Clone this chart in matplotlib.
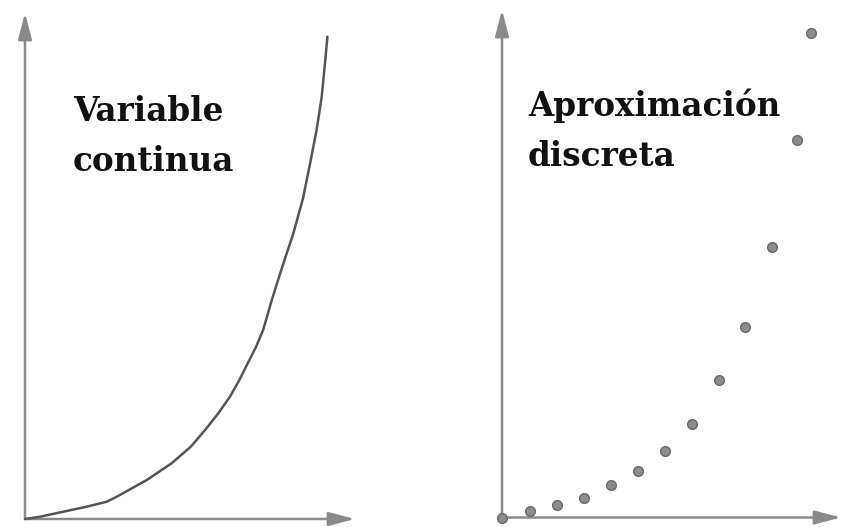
import matplotlib
matplotlib.use("Agg")
import matplotlib.pyplot as plt

# Continuous curve (left panel)
curve_x = [0.0, 0.56, 1.42, 2.28, 3.03, 3.40, 4.51, 5.43, 6.14, 6.67, 7.16, 7.59,
           7.94, 8.25, 8.56, 8.82, 9.14, 9.53, 9.94, 10.30, 10.56, 10.80, 10.99,
           11.11, 11.20]
curve_y = [0.0, 0.23, 0.73, 1.23, 1.73, 2.23, 3.9, 5.57, 7.23, 8.9, 10.57, 12.23,
           13.9, 15.57, 17.23, 18.9, 21.9, 25.23, 28.57, 32.1, 35.57, 38.9, 42.23,
           45.57, 48.23]

# Discrete approximation (right panel)
dots_x = [0, 1.02, 2.05, 3.05, 4.05, 5.02, 6.02, 7.02, 8.02, 9.01, 10.01, 10.94, 11.45]
dots_y = [0, 0.63, 1.3, 1.97, 3.3, 4.7, 6.7, 9.4, 13.8, 19.1, 27.1, 37.8, 48.5]

left_label = "Variable\ncontinua"
right_label = "Aproximación\ndiscreta"

W, H = 842, 527
fig = plt.figure(figsize=(W / 100, H / 100), dpi=100)
fig.patch.set_facecolor("white")

XU, YU = 27.0, 10.0  # pixels per data unit

def make_axes(px0, px1, ox, oy):
    ax = fig.add_axes([px0 / W, 0, (px1 - px0) / W, 1])
    ax.set_xlim((px0 - ox) / XU, (px1 - ox) / XU)
    ax.set_ylim((oy - H) / YU, oy / YU)
    ax.axis("off")
    return ax

axis_col = "#8a8a8a"

def arrows(ax, xend, yend):
    style = "-|>,head_length=1.6,head_width=0.42"
    ax.annotate("", xy=(0, yend), xytext=(0, 0),
                arrowprops=dict(arrowstyle=style, mutation_scale=10, color=axis_col,
                                lw=1.8, shrinkA=0, shrinkB=0))
    ax.annotate("", xy=(xend, 0), xytext=(0, 0),
                arrowprops=dict(arrowstyle=style, mutation_scale=10, color=axis_col,
                                lw=1.8, shrinkA=0, shrinkB=0))

# Left panel
ox1, oy1 = 25, 519
ax1 = make_axes(0, 421, ox1, oy1)
arrows(ax1, (355 - ox1) / XU, (oy1 - 13) / YU)
ax1.plot(curve_x, curve_y, color="#555555", lw=1.8, solid_capstyle="round",
         solid_joinstyle="round", zorder=3)
ax1.text((73 - ox1) / XU, (oy1 - 171) / YU, left_label, family="DejaVu Serif",
         fontweight="bold", fontsize=23.5, color="#111111", va="baseline", ha="left",
         linespacing=1.65)

# Right panel
ox2, oy2 = 502, 517.5
ax2 = make_axes(421, 842, ox2, oy2)
arrows(ax2, (841 - ox2) / XU, (oy2 - 10) / YU)
ax2.plot(dots_x, dots_y, linestyle="none", marker="o", markersize=7,
         markerfacecolor="#8c8c8c", markeredgecolor="#6a6a6a", markeredgewidth=1.0,
         zorder=4, clip_on=False)
ax2.text((528 - ox2) / XU, (oy2 - 166) / YU, right_label, family="DejaVu Serif",
         fontweight="bold", fontsize=23.5, color="#111111", va="baseline", ha="left",
         linespacing=1.65)

fig.savefig("out.png", dpi=100, facecolor="white")
